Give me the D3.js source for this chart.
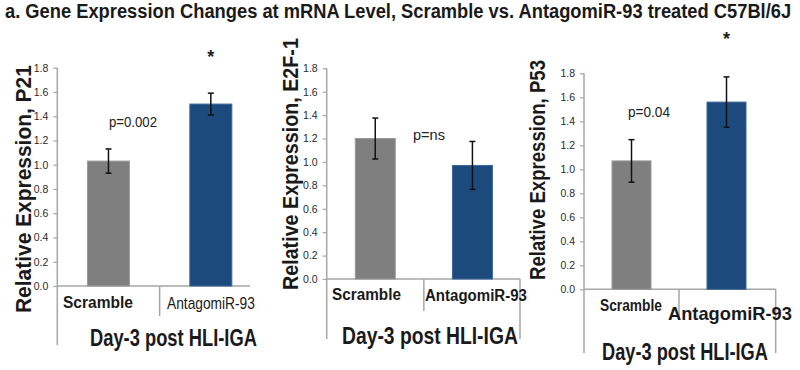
<!DOCTYPE html>
<html>
<head>
<meta charset="utf-8">
<script src="https://cdnjs.cloudflare.com/ajax/libs/d3/7.8.5/d3.min.js"></script>
<style>
  body { margin: 0; background: #fff; }
  svg { font-family: Arial, "Liberation Sans", sans-serif; }
</style>
</head>
<body>
<div id="chart"></div>
<script>
// chart values
var title = "a. Gene Expression Changes at mRNA Level, Scramble vs. AntagomiR-93 treated C57Bl/6J"
var categories = ["Scramble", "AntagomiR-93"]
var genes = ["P21", "E2F-1", "P53"]
var p21Values = [1.03, 1.50]
var p21Errors = [0.10, 0.09]
var e2f1Values = [1.20, 0.97]
var e2f1Errors = [0.175, 0.205]
var p53Values = [1.07, 1.56]
var p53Errors = [0.177, 0.21]
var pLabels = ["p=0.002", "p=ns", "p=0.04"]
var starred = [true, false, true]
var yTicks = [0, 0.2, 0.4, 0.6, 0.8, 1.0, 1.2, 1.4, 1.6, 1.8]
var xTitle = "Day-3 post HLI-IGA"

var width = 800
var height = 370
var colors = ["#7f7f7f", "#1d4a7c"]
var axisColor = "#a6a6a6"

var svg = d3.select("#chart")
    .append("svg")
    .attr("width", width)
    .attr("height", height)

// squeeze a text sideways so it spans the given width (figure uses a narrow font)
function narrow(sel, x, y, w, rotate) {
    var k = w / sel.node().getComputedTextLength()
    sel.attr("x", 0).attr("y", 0)
        .attr("transform", "translate(" + x + "," + y + ")" + (rotate ? " rotate(-90)" : "") + " scale(" + k + ",1)")
    return sel
}

var t = svg.append("text")
    .style("font-size", "21px")
    .style("font-weight", "bold")
    .style("fill", "#1a1a1a")
    .text(title)
narrow(t, 5, 18, 787)

// layout of each of the three small charts (pixels, taken from the figure)
var panels = [
    { values: p21Values, errors: p21Errors, axisX: 57.3, bandEnd: 262, axisEnd: 250, yTop: 67.7, yZero: 286, barW: 42,
      lineBottom: 345, rightLine: false, divBottom: 316,
      yTitle: { x: 31, y1: 313, y2: 65 }, xT: { x1: 90, x2: 257, y: 346 },
      cat: [{ x1: 63, x2: 133, y: 308, size: 16, bold: true }, { x1: 167, x2: 255, y: 309, size: 16, bold: false }],
      p: { x: 133, y: 127, w: 48, size: 15 }, star: { y: 63 } },
    { values: e2f1Values, errors: e2f1Errors, axisX: 326.7, bandEnd: 521, axisEnd: 520, yTop: 68.3, yZero: 279, barW: 40,
      lineBottom: 339, rightLine: true, divBottom: 311,
      yTitle: { x: 298, y1: 290, y2: 38 }, xT: { x1: 342, x2: 518, y: 344 },
      cat: [{ x1: 332, x2: 401, y: 300, size: 16, bold: true }, { x1: 425, x2: 527, y: 301, size: 16, bold: true }],
      p: { x: 429, y: 140, w: 32, size: 14 }, star: null },
    { values: p53Values, errors: p53Errors, axisX: 584, bandEnd: 774, axisEnd: 775.7, yTop: 73.3, yZero: 289.3, barW: 39,
      lineBottom: 353, rightLine: true, divBottom: 320,
      yTitle: { x: 545, y1: 280, y2: 60 }, xT: { x1: 602, x2: 768, y: 360 },
      cat: [{ x1: 600, x2: 662, y: 311, size: 16, bold: true }, { x1: 668, x2: 792, y: 320, size: 18, bold: true }],
      p: { x: 649, y: 117, w: 42, size: 14 }, star: { y: 45 } }
]

panels.forEach(function(p, i) {
    var g = svg.append("g")

    var x = d3.scaleBand()
        .domain(categories)
        .range([p.axisX, p.bandEnd])

    var y = d3.scaleLinear()
        .domain([0, 1.8])
        .range([p.yZero, p.yTop])

    // y axis
    var yAxis = g.append("g")
        .attr("transform", "translate(" + p.axisX + ",0)")
        .call(d3.axisLeft(y).tickValues(yTicks).tickFormat(d3.format(".1f")).tickSize(4).tickSizeOuter(0).tickPadding(5))
    yAxis.select(".domain").remove()
    yAxis.selectAll(".tick line").attr("stroke", axisColor).attr("stroke-width", 1.2)
    yAxis.selectAll(".tick text")
        .style("font-size", "10.5px")
        .style("font-family", "Arial, 'Liberation Sans', sans-serif")
        .style("fill", "#2a2a2a")

    var lines = g.append("g")
        .attr("stroke", axisColor)
        .attr("stroke-width", 1.5)
        .attr("fill", "none")

    lines.append("line")
        .attr("x1", p.axisX).attr("x2", p.axisX)
        .attr("y1", y(1.8)).attr("y2", p.lineBottom)
    lines.append("line")
        .attr("x1", p.axisX).attr("x2", p.axisEnd)
        .attr("y1", y(0)).attr("y2", y(0))
    lines.append("line")
        .attr("x1", p.axisX + x.step()).attr("x2", p.axisX + x.step())
        .attr("y1", y(0)).attr("y2", p.divBottom)
    if (p.rightLine) {
        lines.append("line")
            .attr("x1", p.axisEnd).attr("x2", p.axisEnd)
            .attr("y1", y(0)).attr("y2", p.lineBottom)
    }

    // bars
    g.selectAll("rect.bar")
        .data(p.values)
        .enter()
        .append("rect")
        .attr("class", "bar")
        .attr("x", function(d, j) { return x(categories[j]) + x.bandwidth() / 2 - p.barW / 2 })
        .attr("width", p.barW)
        .attr("y", function(d) { return y(d) })
        .attr("height", function(d) { return y(0) - y(d) })
        .style("fill", function(d, j) { return colors[j] })
        .attr("stroke", function(d, j) { return j == 0 ? "#9a9a9a" : "#3a6699" })
        .attr("stroke-width", 1)

    // error bars
    var err = g.append("g")
        .attr("stroke", "#111")
        .attr("stroke-width", 1.5)
    p.values.forEach(function(v, j) {
        var cx = x(categories[j]) + x.bandwidth() / 2
        var lo = y(v - p.errors[j])
        var hi = y(v + p.errors[j])
        err.append("line").attr("x1", cx).attr("x2", cx).attr("y1", hi).attr("y2", lo)
        err.append("line").attr("x1", cx - 3).attr("x2", cx + 3).attr("y1", hi).attr("y2", hi)
        err.append("line").attr("x1", cx - 3).attr("x2", cx + 3).attr("y1", lo).attr("y2", lo)
    })

    // p-value text
    var pt = g.append("text")
        .style("font-size", p.p.size + "px")
        .style("fill", "#222")
        .text(pLabels[i])
    narrow(pt, p.p.x - p.p.w / 2, p.p.y, p.p.w)

    if (starred[i]) {
        g.append("text")
            .attr("x", x(categories[1]) + x.bandwidth() / 2)
            .attr("y", p.star.y)
            .attr("text-anchor", "middle")
            .style("font-size", "18px")
            .style("font-weight", "bold")
            .style("fill", "#222")
            .text("*")
    }

    // category labels
    p.cat.forEach(function(c, j) {
        var ct = g.append("text")
            .style("font-size", c.size + "px")
            .style("font-weight", c.bold ? "bold" : "normal")
            .style("fill", "#1a1a1a")
            .text(categories[j])
        narrow(ct, c.x1, c.y, c.x2 - c.x1)
    })

    // axis titles
    var yt = g.append("text")
        .style("font-size", "22px")
        .style("font-weight", "bold")
        .style("fill", "#1a1a1a")
        .text("Relative Expression, " + genes[i])
    narrow(yt, p.yTitle.x, p.yTitle.y1, p.yTitle.y1 - p.yTitle.y2, true)

    var xt = g.append("text")
        .style("font-size", "23px")
        .style("font-weight", "bold")
        .style("fill", "#1a1a1a")
        .text(xTitle)
    narrow(xt, p.xT.x1, p.xT.y, p.xT.x2 - p.xT.x1)
})
</script>
</body>
</html>
